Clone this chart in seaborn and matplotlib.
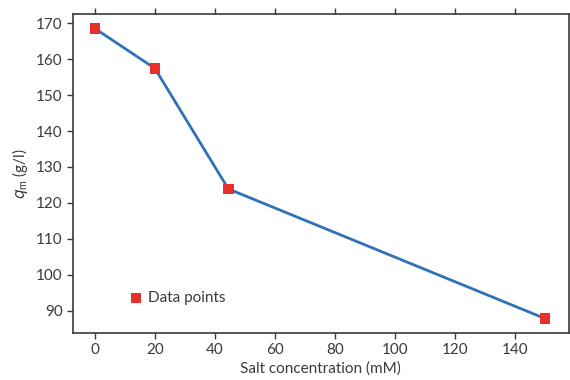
import pandas as pd
import matplotlib
matplotlib.use('Agg')
import matplotlib.pyplot as plt
import seaborn as sns

# data
salt_mM = [0, 20, 44.5, 150]
qm_gl = [168.5, 157.4, 123.9, 87.9]
x_ticks = [0, 20, 40, 60, 80, 100, 120, 140]
y_ticks = [90, 100, 110, 120, 130, 140, 150, 160, 170]

df = pd.DataFrame({'salt': salt_mM, 'qm': qm_gl})

sns.set_theme(style='white')
plt.rcParams['font.family'] = ['Lato', 'DejaVu Sans']
text_col = '#3a3a3a'

fig = plt.figure(figsize=(5.7, 3.8), dpi=100)
ax = fig.add_axes([0.128, 0.124, 0.870, 0.839])

sns.lineplot(data=df, x='salt', y='qm', color='#2f72b8', linewidth=2, ax=ax)
sns.scatterplot(data=df, x='salt', y='qm', marker='s', s=55, color='#e8302a',
                edgecolor='none', label='Data points', ax=ax, zorder=3)

ax.set_xlim(-7.3, 158)
ax.set_ylim(83.9, 172.5)
ax.set_xticks(x_ticks)
ax.set_yticks(y_ticks)
ax.tick_params(axis='both', which='both', direction='out', length=4, width=1,
               color=text_col, labelcolor=text_col, labelsize=11)
ax.tick_params(axis='x', top=True, bottom=True)
ax.tick_params(axis='y', left=True, right=False)
for sp in ax.spines.values():
    sp.set_color(text_col)
    sp.set_linewidth(1.2)

ax.set_xlabel('Salt concentration (mM)', color=text_col, fontsize=11, labelpad=3)
ax.set_ylabel(r'$q_{\mathregular{m}}$ (g/l)', color=text_col, fontsize=11, labelpad=4)

leg = ax.legend(loc='lower left', bbox_to_anchor=(0.068, 0.045), frameon=False,
                fontsize=11, handletextpad=-0.2, markerscale=1.0)
for t in leg.get_texts():
    t.set_color(text_col)

fig.savefig('out.png', dpi=100)
